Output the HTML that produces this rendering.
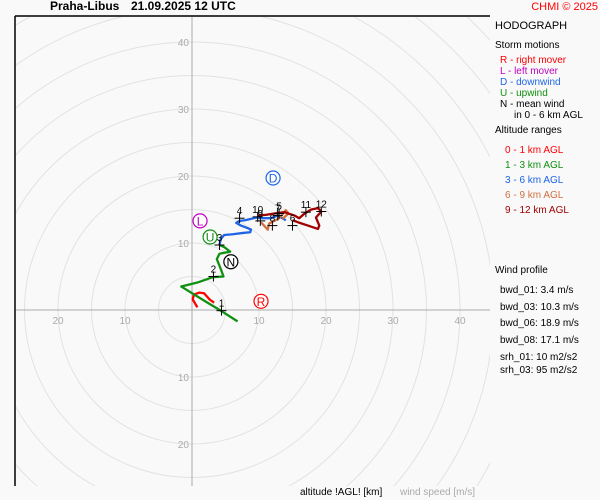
<!DOCTYPE html>
<html><head><meta charset="utf-8"><style>
html,body{margin:0;width:600px;height:500px;overflow:hidden;background:#f9f9f9;font-family:"Liberation Sans",sans-serif;}
#wrap{position:relative;width:600px;height:500px;overflow:hidden;background:#f9f9f9;}
.t{position:absolute;white-space:nowrap;font-size:10px;line-height:12px;}
</style></head><body>
<div id="wrap">
<svg id="svg" width="600" height="500" style="position:absolute;left:0;top:0;display:block">
<defs><clipPath id="cp"><rect x="16" y="17" width="474" height="469"/></clipPath></defs>
<g id="rings" clip-path="url(#cp)"></g>
<line x1="15" y1="16" x2="490" y2="16" stroke="#000" stroke-width="1.5"/>
<line x1="15" y1="16" x2="15" y2="486" stroke="#000" stroke-width="1.5"/>
<g id="marks" clip-path="url(#cp)"></g>
<text x="300" y="495" font-size="10" font-family="Liberation Sans" fill="#000">altitude !AGL! [km]</text>
<text x="400" y="495" font-size="10" font-family="Liberation Sans" fill="#aaa">wind speed [m/s]</text>
</svg>
<div class="t" style="left:50px;top:0px;font-size:12px;font-weight:bold">Praha-Libus</div>
<div class="t" style="left:131px;top:0px;font-size:12px;font-weight:bold">21.09.2025 12 UTC</div>
<div class="t" style="right:2px;top:1px;font-size:11px;color:#f00">CHMI © 2025</div>
<div class="t" style="left:495px;top:20px;font-size:11px">HODOGRAPH</div>
<div class="t" style="left:495px;top:40px">Storm motions</div>
<div class="t" style="left:500px;top:55px;color:#f00">R - right mover</div>
<div class="t" style="left:500px;top:66px;color:#c000c0">L - left mover</div>
<div class="t" style="left:500px;top:77px;color:#1e64e6">D - downwind</div>
<div class="t" style="left:500px;top:88px;color:#109010">U - upwind</div>
<div class="t" style="left:500px;top:99px">N - mean wind</div>
<div class="t" style="left:514px;top:110px">in 0 - 6 km AGL</div>
<div class="t" style="left:495px;top:125px">Altitude ranges</div>
<div class="t" style="left:505px;top:145px;color:#f00">0 - 1 km AGL</div>
<div class="t" style="left:505px;top:160px;color:#109010">1 - 3 km AGL</div>
<div class="t" style="left:505px;top:175px;color:#1e64e6">3 - 6 km AGL</div>
<div class="t" style="left:505px;top:190px;color:#d07040">6 - 9 km AGL</div>
<div class="t" style="left:505px;top:205px;color:#a00000">9 - 12 km AGL</div>
<div class="t" style="left:495px;top:265px">Wind profile</div>
<div class="t" style="left:500px;top:285px">bwd_01: 3.4 m/s</div>
<div class="t" style="left:500px;top:302px">bwd_03: 10.3 m/s</div>
<div class="t" style="left:500px;top:318px">bwd_06: 18.9 m/s</div>
<div class="t" style="left:500px;top:335px">bwd_08: 17.1 m/s</div>
<div class="t" style="left:500px;top:352px">srh_01: 10 m2/s2</div>
<div class="t" style="left:500px;top:365px">srh_03: 95 m2/s2</div>
</div>
<script>
const CX=192, CY=310, K=6.7;
const ringSpeeds=[5,10,15,20,25,30,35,40,45,50,55,60,65,70];
const tickLabels=[10,20,30,40];
const seg01U=[0.8,0.1,0.3,1.1,1.8,2.6,3.3];
const seg01V=[0.4,1.6,2.3,2.6,2.5,1.6,1.1];
const seg13U=[6.8,4.3,2.3,-1.6,0.8,3.1,4.7,4.3,3.7,4.1,5.1,5.7,4.8,4.1];
const seg13V=[-1.7,-0.1,1.1,3.5,4.1,4.9,5.0,6.1,7.6,8.4,8.6,8.7,9.4,9.7];
const seg36U=[4.1,4.3,4.8,6.1,7.6,8.7,8.8,8.1,7.3,6.6,7.1,7.9,8.8,9.6,10.5,11.8,12.8,14.0];
const seg36V=[9.7,10.6,11.2,11.3,11.5,11.6,12.0,12.3,12.6,13.0,13.3,13.4,13.6,13.8,13.7,13.7,14.1,13.4];
const seg69U=[10.3,11.3,11.5,12.3,13.0,14.0,14.4,13.5];
const seg69V=[13.1,12.0,12.9,13.3,13.7,14.9,14.4,13.6];
const seg912U=[9.8,11.0,12.3,13.8,15.3,16.0,16.8,17.8,18.8,19.3,18.5,19.0,18.8,17.3,15.8,15.0];
const seg912V=[14.1,14.2,14.4,14.6,14.1,13.7,14.4,15.0,15.2,14.7,13.8,12.6,12.1,12.6,13.1,13.4];
const kmLabels=["1","2","3","4","5","6","7","8","9","10","11","12"];
const kmU=[4.4,3.2,4.1,7.1,13.0,15.0,12.8,12.0,10.2,9.8,17.0,19.3];
const kmV=[-0.1,5.0,9.7,13.7,14.4,12.6,14.1,12.6,13.3,13.9,14.6,14.7];
const stormLabels=["R","L","D","U","N"];
const stormU=[10.3,1.2,12.1,2.7,5.8];
const stormV=[1.3,13.3,19.7,10.9,7.2];
const stormColors=["#f00","#c000c0","#1e64e6","#109010","#000"];
const xs=u=>CX+u*K, ys=v=>CY-v*K;
const NS="http://www.w3.org/2000/svg";
function mk(tag,attrs,parent){const e=document.createElementNS(NS,tag);for(const k in attrs)e.setAttribute(k,attrs[k]);parent.appendChild(e);return e;}
const rg=document.getElementById('rings'), mg=document.getElementById('marks');
ringSpeeds.forEach(s=>{const c=mk('circle',{cx:CX,cy:CY,r:s*K,fill:'none',stroke:'#e2e2e2','stroke-width':1},rg);

});
let a=mk('line',{x1:CX,y1:16,x2:CX,y2:486,stroke:'#aaa'},rg);


a=mk('line',{x1:15,y1:CY,x2:490,y2:CY,stroke:'#aaa'},rg);


tickLabels.forEach(t=>{
 [[xs(t),CY+14,'middle'],[xs(-t),CY+14,'middle'],[CX-3,ys(t)+4,'end'],[CX-3,ys(-t)+4,'end']].forEach(p=>{
  if(p[1]>486||p[0]>485)return;
  const e=mk('text',{x:p[0],y:p[1],'text-anchor':p[2],'font-size':10,fill:'#aaa','font-family':'Liberation Sans'},rg);e.textContent=t;
  
  
 });
});
function seg(U,V,col,name){const p=mk('polyline',{points:U.map((u,i)=>xs(u)+','+ys(V[i])).join(' '),fill:'none',stroke:col,'stroke-width':2.3,'stroke-linejoin':'round'},mg);

}
seg(seg01U,seg01V,'#f00','trace-0-1km');
seg(seg13U,seg13V,'#109010','trace-1-3km');
seg(seg36U,seg36V,'#1e64e6','trace-3-6km');
seg(seg69U,seg69V,'#d07040','trace-6-9km');
seg(seg912U,seg912V,'#a00000','trace-9-12km');
kmLabels.forEach((l,i)=>{const x=xs(kmU[i]),y=ys(kmV[i]);
 const g=mk('g',{},mg);
 
 
 mk('line',{x1:x-5,y1:y,x2:x+5,y2:y,stroke:'#000'},g);mk('line',{x1:x,y1:y-5,x2:x,y2:y+5,stroke:'#000'},g);
 const t=mk('text',{x:x,y:y-4,'text-anchor':'middle','font-size':10,fill:'#000','font-family':'Liberation Sans'},g);t.textContent=l;});
stormLabels.forEach((l,i)=>{const x=xs(stormU[i]),y=ys(stormV[i]);
 const g=mk('g',{},mg);
 
 
 mk('circle',{cx:x,cy:y,r:7,fill:'#fff',stroke:stormColors[i],'stroke-width':1.2},g);
 const t=mk('text',{x:x,y:y+4.5,'text-anchor':'middle','font-size':12,fill:stormColors[i],'font-family':'Liberation Sans'},g);t.textContent=l;});
</script>
</body></html>
